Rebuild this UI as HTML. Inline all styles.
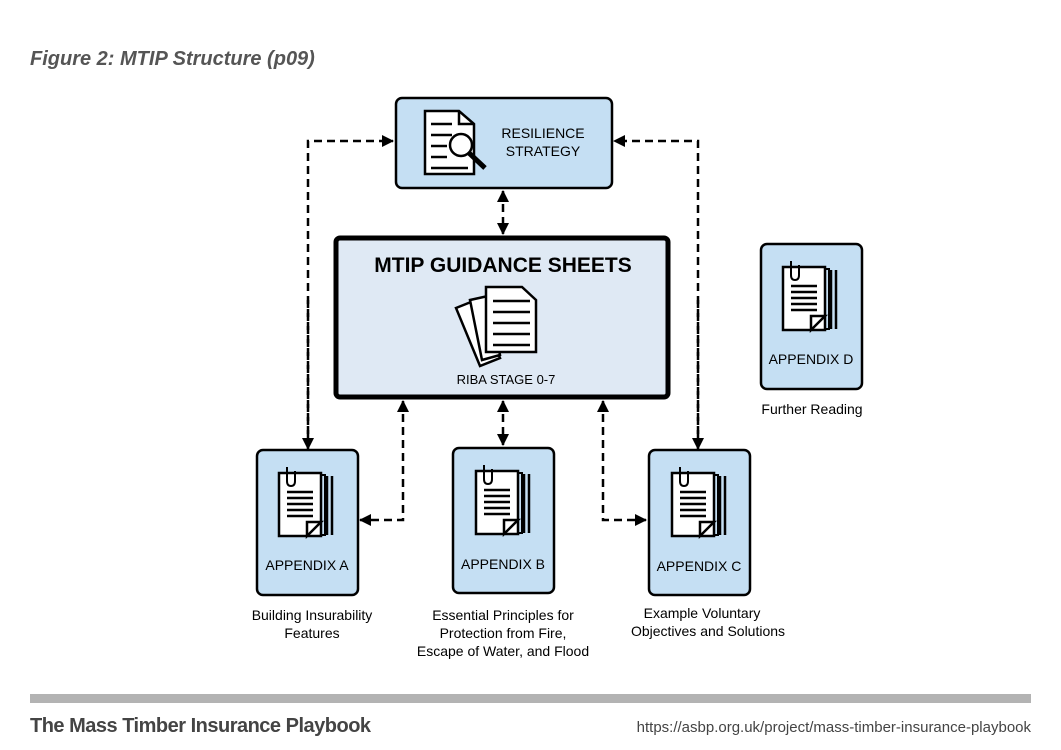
<!DOCTYPE html>
<html><head><meta charset="utf-8"><style>
html,body{margin:0;padding:0;background:#fff}
svg{display:block}
text{font-family:"Liberation Sans",sans-serif}
</style></head><body>
<svg width="1061" height="750" viewBox="0 0 1061 750" xmlns="http://www.w3.org/2000/svg">
<defs>
<g id="doc">
 <path d="M0 0 H42 V63 H0 Z" fill="#fff" stroke="#000" stroke-width="2.5"/>
 <path d="M48 3 V62 M53 3 V62" stroke="#000" stroke-width="2.5" fill="none"/>
 <path d="M42 2 H46 V62 H42" fill="none" stroke="#000" stroke-width="2"/>
 <path d="M28 63 L42 49 L28 49 Z" fill="#fff" stroke="#000" stroke-width="2.5"/>
 <path d="M8 -6 V8 Q8 13 12 13 Q16 13 16 8 V-2" fill="none" stroke="#000" stroke-width="2"/>
 <path d="M8 19 H34 M8 25 H34 M8 31 H34 M8 37 H34 M8 43 H34" stroke="#000" stroke-width="2.5"/>
</g>
<marker id="ah" markerWidth="12" markerHeight="12" refX="11" refY="6" orient="auto-start-reverse" markerUnits="userSpaceOnUse"><path d="M0 0 L12 6 L0 12 Z" fill="#000"/></marker>
</defs>
<text x="30" y="65" font-size="20" font-style="italic" font-weight="bold" fill="#555">Figure 2: MTIP Structure (p09)</text>

<g stroke="#000" stroke-width="2.5" fill="none" stroke-dasharray="8,5">
 <path d="M308 447 V141 H393" marker-end="url(#ah)"/>
 <path d="M698 447 V141 H614" marker-end="url(#ah)"/>
 <path d="M503 191 V234" marker-end="url(#ah)" marker-start="url(#ah)"/>
 <path d="M403 401 V520 H360" marker-end="url(#ah)" marker-start="url(#ah)"/>
 <path d="M503 401 V445" marker-end="url(#ah)" marker-start="url(#ah)"/>
 <path d="M603 401 V520 H646" marker-end="url(#ah)" marker-start="url(#ah)"/>
 <path d="M308 300 V449" marker-end="url(#ah)"/>
 <path d="M698 300 V449" marker-end="url(#ah)"/>
</g>

<rect x="396" y="98" width="216" height="90" rx="6" fill="#c5dff3" stroke="#000" stroke-width="2.5"/>
<g stroke="#000" stroke-width="2.5" fill="none">
 <path d="M425 111 H459 L474 124 V174 H425 Z" fill="#fff"/>
 <path d="M459 111 V124 H474"/>
 <path d="M431 124 H452 M431 135 H452 M431 146 H447 M431 157 H447 M431 168 H468"/>
 <circle cx="461" cy="145" r="11" fill="#fff"/>
 <path d="M469 153 L485 168" stroke-width="5"/>
</g>
<text x="543" y="138" font-size="14" text-anchor="middle">RESILIENCE</text>
<text x="543" y="156" font-size="14" text-anchor="middle">STRATEGY</text>

<rect x="336" y="238" width="332" height="159" rx="4" fill="#dfe9f4" stroke="#000" stroke-width="5"/>
<text x="503" y="272" font-size="21" font-weight="bold" text-anchor="middle">MTIP GUIDANCE SHEETS</text>
<g stroke="#000" stroke-width="2.5" fill="#fff">
 <path d="M456 308 L476 300 L500 358 L480 366 Z"/>
 <path d="M470 300 L488 296 L500 355 L482 360 Z"/>
 <path d="M486 287 H522 L536 300 V352 H486 Z"/>
 <path d="M493 301 H530 M493 312 H530 M493 323 H530 M493 334 H530 M493 345 H530" fill="none"/>
</g>
<text x="506" y="384" font-size="13" text-anchor="middle">RIBA STAGE 0-7</text>

<rect x="257" y="450" width="101" height="145" rx="6" fill="#c5dff3" stroke="#000" stroke-width="2.5"/>
<use href="#doc" x="279" y="473"/>
<text x="307" y="570" font-size="14" text-anchor="middle">APPENDIX A</text>
<rect x="453" y="448" width="101" height="145" rx="6" fill="#c5dff3" stroke="#000" stroke-width="2.5"/>
<use href="#doc" x="476" y="471"/>
<text x="503" y="569" font-size="14" text-anchor="middle">APPENDIX B</text>
<rect x="649" y="450" width="101" height="145" rx="6" fill="#c5dff3" stroke="#000" stroke-width="2.5"/>
<use href="#doc" x="672" y="473"/>
<text x="699" y="571" font-size="14" text-anchor="middle">APPENDIX C</text>
<rect x="761" y="244" width="101" height="145" rx="6" fill="#c5dff3" stroke="#000" stroke-width="2.5"/>
<use href="#doc" x="783" y="267"/>
<text x="811" y="364" font-size="14" text-anchor="middle">APPENDIX D</text>

<g font-size="14" text-anchor="middle">
<text x="312" y="620">Building Insurability</text>
<text x="312" y="638">Features</text>
<text x="503" y="620">Essential Principles for</text>
<text x="503" y="638">Protection from Fire,</text>
<text x="503" y="656">Escape of Water, and Flood</text>
<text x="702" y="618">Example Voluntary</text>
<text x="708" y="636">Objectives and Solutions</text>
<text x="812" y="414">Further Reading</text>
</g>

<rect x="30" y="694" width="1001" height="9" fill="#b3b3b3"/>
<text x="30" y="732" font-size="20" font-weight="bold" fill="#444" letter-spacing="-0.5">The Mass Timber Insurance Playbook</text>
<text x="1031" y="732" font-size="15" fill="#444" text-anchor="end">https://asbp.org.uk/project/mass-timber-insurance-playbook</text>
</svg>
</body></html>
